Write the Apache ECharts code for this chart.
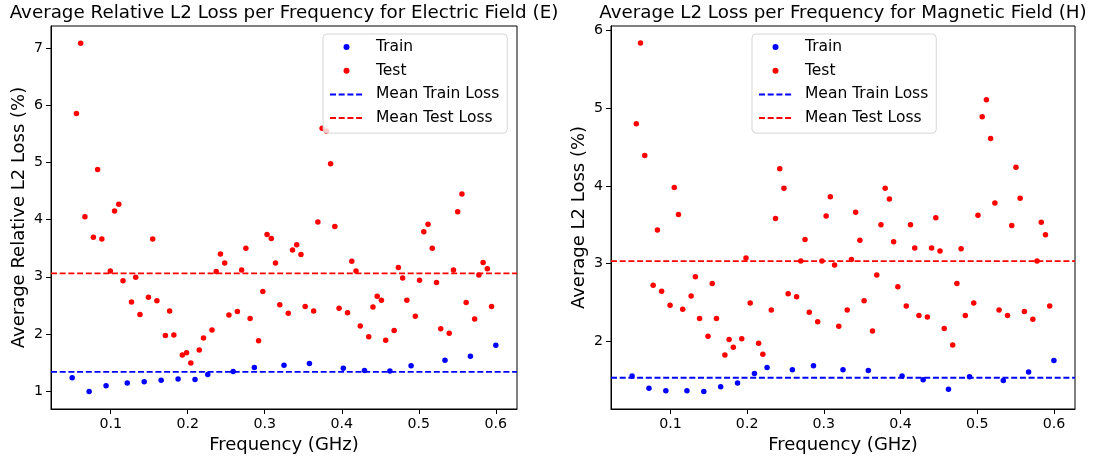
<!DOCTYPE html>
<html>
<head>
<meta charset="utf-8">
<title>Average L2 Loss per Frequency</title>
<script src="https://cdn.jsdelivr.net/npm/echarts@6/dist/echarts.min.js"></script>
<style>
  html, body { margin: 0; padding: 0; background: #fff; }
  #chart { width: 1094px; height: 460px; }
</style>
</head>
<body>
<div id="chart"></div>
<script>
// frequencies (GHz) of the train / test split
var trainFreq = [0.05, 0.072, 0.094, 0.1215, 0.1435, 0.1655, 0.1875, 0.2095, 0.226, 0.259,
                 0.2865, 0.325, 0.358, 0.402, 0.4295, 0.4625, 0.49, 0.534, 0.567, 0.6];
var testFreq = [0.0555, 0.061, 0.0665, 0.0775, 0.083, 0.0885, 0.0995, 0.105, 0.1105, 0.116,
                0.127, 0.1325, 0.138, 0.149, 0.1545, 0.16, 0.171, 0.1765, 0.182, 0.193,
                0.1985, 0.204, 0.215, 0.2205, 0.2315, 0.237, 0.2425, 0.248, 0.2535, 0.2645,
                0.27, 0.2755, 0.281, 0.292, 0.2975, 0.303, 0.3085, 0.314, 0.3195, 0.3305,
                0.336, 0.3415, 0.347, 0.3525, 0.3635, 0.369, 0.3745, 0.38, 0.3855, 0.391,
                0.3965, 0.4075, 0.413, 0.4185, 0.424, 0.435, 0.4405, 0.446, 0.4515, 0.457,
                0.468, 0.4735, 0.479, 0.4845, 0.4955, 0.501, 0.5065, 0.512, 0.5175, 0.523,
                0.5285, 0.5395, 0.545, 0.5505, 0.556, 0.5615, 0.5725, 0.578, 0.5835, 0.589,
                0.5945];

// electric field (E), relative L2 loss %
var trainLossE = [1.23, 0.99, 1.09, 1.14, 1.16, 1.19, 1.21, 1.20, 1.29, 1.34,
                  1.41, 1.45, 1.48, 1.40, 1.36, 1.35, 1.44, 1.54, 1.61, 1.80];
var testLossE = [5.86, 7.09, 4.05, 3.69, 4.88, 3.66, 3.10, 4.15, 4.27, 2.93,
                 2.56, 2.99, 2.34, 2.64, 3.66, 2.58, 1.97, 2.40, 1.98, 1.63,
                 1.67, 1.49, 1.72, 1.93, 2.07, 3.09, 3.40, 3.24, 2.33, 2.39,
                 3.12, 3.50, 2.27, 1.88, 2.74, 3.74, 3.67, 3.24, 2.51, 2.36,
                 3.47, 3.56, 3.39, 2.48, 2.40, 3.96, 5.60, 5.55, 4.98, 3.88,
                 2.45, 2.37, 3.27, 3.10, 2.14, 1.95, 2.47, 2.66, 2.59, 1.89,
                 2.06, 3.16, 2.98, 2.59, 2.31, 2.94, 3.79, 3.92, 3.50, 2.90,
                 2.09, 2.01, 3.12, 4.14, 4.45, 2.55, 2.26, 3.03, 3.25, 3.14,
                 2.48];
var meanTrainE = 1.335;
var meanTestE = 3.06;

// magnetic field (H), L2 loss %
var trainLossH = [1.55, 1.39, 1.36, 1.36, 1.35, 1.41, 1.46, 1.58, 1.66, 1.63,
                  1.68, 1.63, 1.62, 1.55, 1.50, 1.38, 1.54, 1.49, 1.60, 1.75];
var testLossH = [4.80, 5.84, 4.39, 2.72, 3.43, 2.64, 2.46, 3.98, 3.63, 2.41,
                 2.58, 2.83, 2.29, 2.06, 2.74, 2.29, 1.82, 2.02, 1.92, 2.03,
                 3.07, 2.49, 1.97, 1.83, 2.40, 3.58, 4.22, 3.97, 2.61, 2.57,
                 3.03, 3.31, 2.37, 2.25, 3.03, 3.61, 3.86, 2.98, 2.19, 2.40,
                 3.05, 3.66, 3.30, 2.52, 2.13, 2.85, 3.50, 3.97, 3.83, 3.28,
                 2.70, 2.45, 3.50, 3.20, 2.33, 2.31, 3.20, 3.59, 3.16, 2.16,
                 1.95, 2.74, 3.19, 2.33, 2.49, 3.62, 4.89, 5.11, 4.61, 3.78,
                 2.40, 2.33, 3.49, 4.24, 3.84, 2.38, 2.28, 3.03, 3.53, 3.37,
                 2.45];
var meanTrainH = 1.527;
var meanTestH = 3.03;

// ticks and axis limits
var xTicks = [0.1, 0.2, 0.3, 0.4, 0.5, 0.6];
var yTicksE = [1, 2, 3, 4, 5, 6, 7];
var yTicksH = [2, 3, 4, 5, 6];
var xRange = [0.0225, 0.6275];
var yRangeE = [0.685, 7.39];
var yRangeH = [1.124, 6.06];

var FONT = 'DejaVu Sans';
var dash = [6, 2.7];

function pairs(xs, ys) {
    return xs.map(function (x, i) { return [x, ys[i]]; });
}

function xAxisOf(gi) {
    return {
        type: 'value', gridIndex: gi, min: xRange[0], max: xRange[1],
        name: 'Frequency (GHz)', nameLocation: 'middle', nameGap: 26,
        nameTextStyle: { fontSize: 18, color: '#000', fontFamily: FONT },
        axisLine: { onZero: false, lineStyle: { color: '#000', width: 1 } },
        axisTick: { customValues: xTicks, length: 5, lineStyle: { color: '#000' } },
        axisLabel: {
            customValues: xTicks, margin: 8, fontSize: 14.2, color: '#000', fontFamily: FONT,
            formatter: function (v) { return v.toFixed(1); }
        },
        splitLine: { show: false }
    };
}

function yAxisOf(gi, name, range, ticks) {
    return {
        type: 'value', gridIndex: gi, min: range[0], max: range[1],
        name: name, nameLocation: 'middle', nameGap: 23,
        nameTextStyle: { fontSize: 18, color: '#000', fontFamily: FONT },
        axisLine: { onZero: false, lineStyle: { color: '#000', width: 1 } },
        axisTick: { customValues: ticks, length: 5, lineStyle: { color: '#000' } },
        axisLabel: { customValues: ticks, margin: 8, fontSize: 14.2, color: '#000', fontFamily: FONT },
        splitLine: { show: false }
    };
}

function seriesOf(gi, trainY, testY, meanTrain, meanTest) {
    return [
        { name: 'Train', type: 'scatter', xAxisIndex: gi, yAxisIndex: gi, symbolSize: 5.5,
          itemStyle: { color: '#0000ff', opacity: 1 }, data: pairs(trainFreq, trainY) },
        { name: 'Test', type: 'scatter', xAxisIndex: gi, yAxisIndex: gi, symbolSize: 5.5,
          itemStyle: { color: '#ff0000', opacity: 1 }, data: pairs(testFreq, testY) },
        { name: 'Mean Train Loss', type: 'line', xAxisIndex: gi, yAxisIndex: gi, symbol: 'none',
          lineStyle: { color: '#0000ff', width: 1.8, type: dash }, itemStyle: { color: '#0000ff' },
          data: [[xRange[0], meanTrain], [xRange[1], meanTrain]] },
        { name: 'Mean Test Loss', type: 'line', xAxisIndex: gi, yAxisIndex: gi, symbol: 'none',
          lineStyle: { color: '#ff0000', width: 1.8, type: dash }, itemStyle: { color: '#ff0000' },
          data: [[xRange[0], meanTest], [xRange[1], meanTest]] }
    ];
}

function legendOf(left) {
    return {
        orient: 'vertical', left: left, top: 34,
        padding: [4, 8, 6, 6], itemGap: 5.7,
        itemWidth: 33, itemHeight: 6,
        backgroundColor: 'rgba(255,255,255,0.8)',
        borderColor: 'rgba(204,204,204,0.8)', borderWidth: 1, borderRadius: 4,
        textStyle: { fontSize: 15.5, lineHeight: 18, color: '#000', fontFamily: FONT, padding: [0, 0, 0, 8] },
        data: [
            { name: 'Train', icon: 'circle' },
            { name: 'Test', icon: 'circle' },
            // hide the dot ECharts puts in the middle of line icons
            { name: 'Mean Train Loss', itemStyle: { opacity: 0 } },
            { name: 'Mean Test Loss', itemStyle: { opacity: 0 } }
        ]
    };
}

var titleStyle = { fontSize: 18.3, fontWeight: 'normal', color: '#000', fontFamily: FONT };

var option = {
    animation: false,
    backgroundColor: '#fff',
    textStyle: { fontFamily: FONT },
    title: [
        { text: 'Average Relative L2 Loss per Frequency for Electric Field (E)',
          left: 284, top: 4, textAlign: 'center', padding: 0, textStyle: titleStyle },
        { text: 'Average L2 Loss per Frequency for Magnetic Field (H)',
          left: 843, top: 4, textAlign: 'center', padding: 0, textStyle: titleStyle }
    ],
    legend: [legendOf(323), legendOf(752)],
    grid: [
        { left: 51, right: 577, top: 26, bottom: 51, show: true, borderColor: '#000', borderWidth: 1 },
        { left: 611, right: 19, top: 26, bottom: 51, show: true, borderColor: '#000', borderWidth: 1 }
    ],
    xAxis: [xAxisOf(0), xAxisOf(1)],
    yAxis: [
        yAxisOf(0, 'Average Relative L2 Loss (%)', yRangeE, yTicksE),
        yAxisOf(1, 'Average L2 Loss (%)', yRangeH, yTicksH)
    ],
    series: seriesOf(0, trainLossE, testLossE, meanTrainE, meanTestE)
        .concat(seriesOf(1, trainLossH, testLossH, meanTrainH, meanTestH))
};

var myChart = echarts.init(document.getElementById('chart'));
myChart.setOption(option);

window.addEventListener('resize', function () {
    myChart.resize();
});
</script>
</body>
</html>
